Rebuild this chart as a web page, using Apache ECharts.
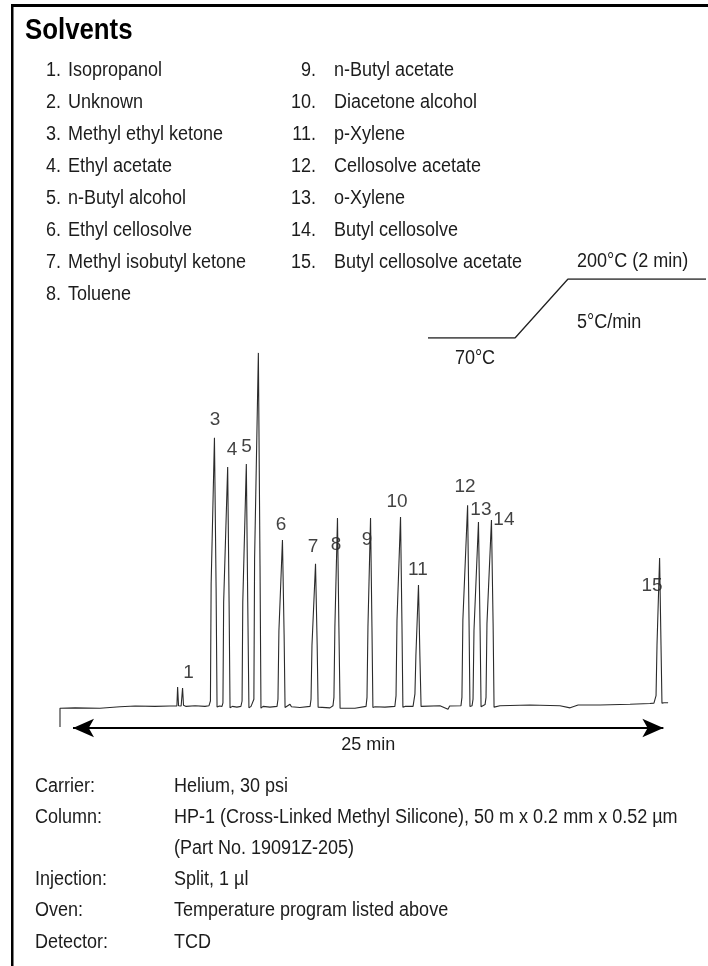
<!DOCTYPE html>
<html>
<head>
<meta charset="utf-8">
<title>Solvents</title>
<script src="https://cdn.jsdelivr.net/npm/echarts@6/dist/echarts.min.js"></script>
<style>
  html, body { margin: 0; padding: 0; background: #ffffff; }
  #chart { width: 708px; height: 966px; }
</style>
</head>
<body>
<div id="chart"></div>
<script>
// Peak identification list
const compounds = [
  'Isopropanol', 'Unknown', 'Methyl ethyl ketone', 'Ethyl acetate',
  'n-Butyl alcohol', 'Ethyl cellosolve', 'Methyl isobutyl ketone', 'Toluene',
  'n-Butyl acetate', 'Diacetone alcohol', 'p-Xylene', 'Cellosolve acetate',
  'o-Xylene', 'Butyl cellosolve', 'Butyl cellosolve acetate'
];

// Labelled peak apexes (retention time in min, detector response)
const peakNumbers = [1, 3, 4, 5, 6, 7, 8, 9, 10, 11, 12, 13, 14, 15];
const peakTimes   = [5.19, 6.56, 7.12, 7.90, 9.44, 10.84, 11.77, 13.17, 14.44, 15.20, 17.28, 17.74, 18.29, 25.41];
const peakHeights = [6.1, 75.6, 67.5, 68.3, 47.2, 40.6, 53.3, 53.3, 53.6, 34.7, 56.9, 52.2, 52.8, 42.2];

// Detector trace (time in min)
const traceTime = [
  0, 0, 0.64, 1.69, 2.54, 3.18, 4.02, 4.66,
  4.95, 4.98, 5.02, 5.13, 5.19, 5.23, 5.34, 5.72, 6.14,
  6.31, 6.37, 6.40, 6.54, 6.58, 6.61, 6.65, 6.75, 6.86,
  6.90, 6.93, 7.10, 7.13, 7.16, 7.20, 7.30, 7.49, 7.66,
  7.71, 7.74, 7.89, 7.92, 7.95, 8.00, 8.09,
  8.17, 8.21, 8.24, 8.40, 8.43, 8.47, 8.51, 8.60, 8.89,
  9.19, 9.23, 9.27, 9.42, 9.46, 9.49, 9.53, 9.61, 9.74, 9.80, 10.16,
  10.59, 10.63, 10.67, 10.82, 10.86, 10.89, 10.93, 11.01, 11.43,
  11.56, 11.60, 11.64, 11.75, 11.79, 11.81, 11.86, 11.94, 12.49,
  12.96, 13.00, 13.04, 13.15, 13.19, 13.21, 13.25, 13.34, 13.76,
  14.18, 14.23, 14.27, 14.42, 14.46, 14.48, 14.52, 14.61, 14.95,
  14.99, 15.03, 15.07, 15.18, 15.22, 15.24, 15.29, 15.37, 16.09, 16.43, 16.50, 16.98,
  17.02, 17.06, 17.26, 17.30, 17.32, 17.36, 17.45, 17.49,
  17.53, 17.72, 17.76, 17.79, 17.83, 17.91, 18.00, 18.04,
  18.08, 18.27, 18.31, 18.34, 18.38, 18.46, 18.63,
  19.90, 21.17, 21.60, 21.94, 22.02, 22.87, 24.14, 24.98,
  25.15, 25.24, 25.28, 25.39, 25.43, 25.45, 25.49, 25.58, 25.66, 25.75
];
const traceSignal = [
  -4.7, 0.5, 0.6, 0.5, 0.9, 1.1, 1.0, 1.1,
  1.1, 6.4, 1.2, 1.1, 6.1, 1.3, 1.0, 1.2, 1.0,
  1.2, 2.5, 35, 75.6, 75.6, 34, 0.8, 1.1, 1.0,
  2.0, 30, 67.5, 67.5, 30, 0.6, 1.0, 0.8, 1.0,
  2.5, 30, 68.3, 68.3, 30, 0.6, 1.0,
  1.2, 3.0, 42, 99.2, 99.2, 40, 0.5, 1.0, 0.8,
  1.0, 3.0, 22, 47.2, 47.2, 21, 0.7, 1.0, 1.6, 0.9, 0.7,
  1.0, 3.0, 18, 40.6, 40.6, 18, 0.8, 1.0, 0.6,
  1.2, 3.5, 23, 53.3, 53.3, 23, 0.5, 0.8, 0.5,
  1.0, 3.5, 23, 53.3, 53.3, 23, 0.7, 0.9, 0.8,
  1.0, 4.0, 25, 53.6, 53.6, 24, 0.8, 1.0, 1.0,
  1.5, 4.5, 15, 34.7, 34.7, 15, 1.0, 1.1, 1.2, 0.2, 1.1, 1.2,
  3.5, 25, 56.9, 56.9, 25, 1.0, 1.2, 3.0,
  22, 52.2, 52.2, 22, 0.9, 1.1, 1.5, 3.5,
  24, 52.8, 52.8, 24, 0.8, 1.1, 1.2,
  1.4, 1.2, 0.6, 1.4, 1.0, 1.4, 1.6, 1.8,
  1.9, 4.0, 18, 42.2, 42.2, 18, 1.9, 2.0, 1.8, 2.0
];

// Run length bar: 25 min
const runSpan = [0.55, 25.55];
const runLabel = '25 min';

// Oven program (schematic): 70 °C hold, 5 °C/min ramp, 200 °C for 2 min
const ovenSteps = [0, 8.7, 14, 27.8];
const ovenTemps = [70, 70, 200, 200];
const ovenTexts = ['70°C', '5°C/min', '200°C (2 min)'];

// Instrument conditions
const conditionNames  = ['Carrier:', 'Column:', '', 'Injection:', 'Oven:', 'Detector:'];
const conditionValues = [
  'Helium, 30 psi',
  'HP-1 (Cross-Linked Methyl Silicone), 50 m x 0.2 mm x 0.52 µm',
  '(Part No. 19091Z-205)',
  'Split, 1 µl',
  'Temperature program listed above',
  'TCD'
];

const FONT = "'Liberation Sans', Arial, Helvetica, sans-serif";
const INK = '#1c1c1c';
const BODY = `20px ${FONT}`;
const NARROW = 0.9;   // condensed look for body text

// label placement around each apex [dx, dy] in px
const labelOffsets = {
  1: [6, -15], 3: [0, -18], 4: [4, -17], 5: [0, -17], 6: [-2, -15],
  7: [-3, -17], 8: [-2, 27], 9: [-4, 22], 10: [-4, -15], 11: [-1, -15],
  12: [-3, -18], 13: [2, -12], 14: [12, 0], 15: [-8, 28]
};

const chart = echarts.init(document.getElementById('chart'), null, { renderer: 'canvas' });

const traceData = traceTime.map((t, i) => [t, traceSignal[i]]);
const peakData = peakNumbers.map((n, i) => ({
  value: [peakTimes[i], peakHeights[i]],
  name: String(n)
}));
const ovenData = ovenSteps.map((s, i) => [s, ovenTemps[i]]);

function bodyText(text, x, y, align) {
  return {
    type: 'text', x, y, scaleX: NARROW, silent: true,
    style: { text, font: BODY, fill: INK, textAlign: align || 'left', textVerticalAlign: 'middle' }
  };
}

const graphics = [];
// frame rules
graphics.push({ type: 'rect', shape: { x: 11, y: 4, width: 697, height: 3 }, style: { fill: '#000' }, silent: true });
graphics.push({ type: 'rect', shape: { x: 11, y: 4, width: 2.5, height: 962 }, style: { fill: '#000' }, silent: true });
// heading
graphics.push({
  type: 'text', x: 25, y: 31, scaleX: 0.86, silent: true,
  style: { text: 'Solvents', font: `bold 30px ${FONT}`, fill: '#000', textVerticalAlign: 'middle' }
});

// compound key, two columns
const rowTop = 70, rowGap = 32;
compounds.forEach((name, i) => {
  const col = i < 8 ? 0 : 1;
  const row = col === 0 ? i : i - 8;
  const y = rowTop + row * rowGap;
  graphics.push(bodyText((i + 1) + '.', col === 0 ? 61 : 316, y, 'right'));
  graphics.push(bodyText(name, col === 0 ? 68 : 334, y));
});

// oven program annotations
graphics.push(bodyText(ovenTexts[2], 577, 261));
graphics.push(bodyText(ovenTexts[1], 577, 322));
graphics.push(bodyText(ovenTexts[0], 475, 358, 'center'));

// conditions table
const condTop = 786, condGap = 31.2;
conditionNames.forEach((name, i) => {
  const y = condTop + i * condGap;
  if (name) graphics.push(bodyText(name, 35, y));
  graphics.push(bodyText(conditionValues[i], 174, y));
});

chart.setOption({
  animation: false,
  backgroundColor: '#ffffff',
  grid: [
    { left: 60, top: 350, width: 614, height: 396 },
    { left: 428, top: 279, width: 278, height: 59 }
  ],
  xAxis: [
    { type: 'value', gridIndex: 0, min: 0, max: 26, show: false },
    { type: 'value', gridIndex: 1, min: 0, max: 27.8, show: false }
  ],
  yAxis: [
    { type: 'value', gridIndex: 0, min: -10, max: 100, show: false },
    { type: 'value', gridIndex: 1, min: 70, max: 200, show: false }
  ],
  series: [
    {
      type: 'line', name: 'TCD signal',
      xAxisIndex: 0, yAxisIndex: 0,
      data: traceData,
      showSymbol: false, symbol: 'none', smooth: false,
      clip: false,
      lineStyle: { color: '#2b2b2b', width: 1.1 },
      markLine: {
        silent: true,
        symbol: ['arrow', 'arrow'],
        symbolSize: [14, 21],
        lineStyle: { color: '#000', width: 2, type: 'solid' },
        label: {
          show: true, position: 'insideMiddleBottom', distance: 8,
          formatter: runLabel, color: INK, fontSize: 18, fontFamily: FONT
        },
        data: [[{ coord: [runSpan[0], -5] }, { coord: [runSpan[1], -5] }]]
      }
    },
    {
      type: 'scatter', name: 'Peak no.',
      xAxisIndex: 0, yAxisIndex: 0,
      data: peakData,
      symbolSize: 1,
      itemStyle: { color: 'rgba(0,0,0,0)' },
      label: {
        show: true, position: 'inside',
        formatter: p => p.name,
        color: '#111', fontSize: 19, fontFamily: FONT
      },
      labelLayout: p => {
        const off = labelOffsets[peakNumbers[p.dataIndex]];
        return { dx: off[0], dy: off[1], hideOverlap: false };
      }
    },
    {
      type: 'line', name: 'Oven',
      xAxisIndex: 1, yAxisIndex: 1,
      data: ovenData,
      showSymbol: false, symbol: 'none',
      lineStyle: { color: '#222', width: 1.3 }
    }
  ],
  graphic: graphics
});
</script>
</body>
</html>
